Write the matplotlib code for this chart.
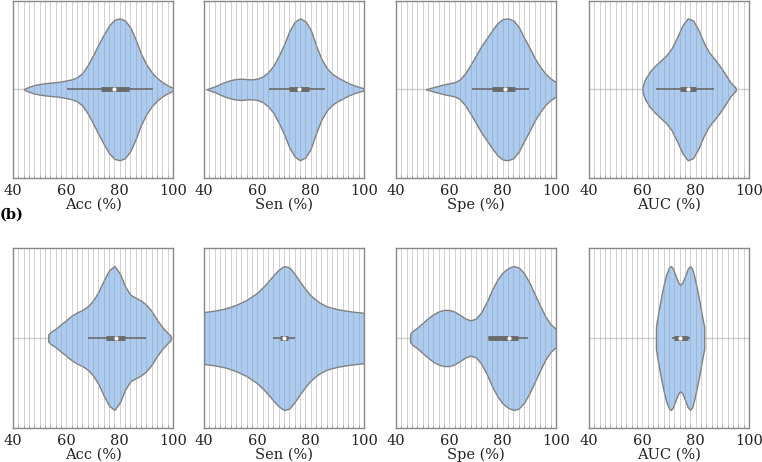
import numpy as np
import matplotlib.pyplot as plt
from matplotlib.ticker import MultipleLocator

# ---------------------------------------------------------
# DATA (violin half-width profiles, max = 1)
# ---------------------------------------------------------
metrics = ["Acc (%)", "Sen (%)", "Spe (%)", "AUC (%)"]

# row (a)
a_acc_x = [44, 45, 46, 48, 50, 52, 54, 56, 58, 60, 62, 64, 66, 68, 70, 72, 74, 76, 78, 80,
           82, 84, 86, 88, 90, 92, 94, 96, 98, 100]
a_acc_w = [0.0, 0.02, 0.035, 0.06, 0.075, 0.085, 0.094, 0.10, 0.11, 0.125, 0.14, 0.17, 0.23, 0.34,
           0.48, 0.63, 0.77, 0.90, 0.98, 1.0, 0.97, 0.87, 0.70, 0.50, 0.35, 0.24, 0.16, 0.10, 0.055, 0.02]
a_sen_x = [41, 42, 44, 46, 48, 50, 52, 54, 56, 58, 60, 62, 64, 66, 68, 70, 72, 74, 76, 78,
           80, 82, 84, 86, 88, 90, 92, 94, 96, 98, 100]
a_sen_w = [0.0, 0.015, 0.04, 0.075, 0.105, 0.13, 0.145, 0.15, 0.143, 0.14, 0.15, 0.18, 0.24, 0.33,
           0.47, 0.63, 0.82, 0.95, 1.0, 0.96, 0.84, 0.62, 0.43, 0.30, 0.22, 0.17, 0.13, 0.09, 0.06,
           0.035, 0.015]
a_spe_x = [51.2, 52, 54, 56, 58, 60, 62, 64, 66, 68, 70, 72, 74, 76, 78, 80, 82, 84, 86, 88,
           90, 92, 94, 96, 98, 100]
a_spe_w = [0.0, 0.01, 0.03, 0.05, 0.07, 0.085, 0.10, 0.14, 0.23, 0.35, 0.48, 0.61, 0.72, 0.83,
           0.93, 0.99, 1.0, 0.97, 0.88, 0.73, 0.59, 0.44, 0.32, 0.22, 0.15, 0.10]
a_auc_x = [60, 61, 63, 65, 67, 69, 71, 73, 75, 77, 79, 81, 83, 85, 87, 89, 91, 93, 95]
a_auc_w = [0.03, 0.14, 0.26, 0.34, 0.41, 0.48, 0.58, 0.73, 0.90, 1.0, 0.97, 0.84, 0.66, 0.52,
           0.43, 0.33, 0.22, 0.10, 0.02]

# row (b)
b_acc_x = [53.2, 54, 56, 58, 60, 62, 64, 66, 68, 70, 72, 74, 76, 78, 80, 82, 84, 86, 88, 90,
           92, 94, 96, 98, 99.1]
b_acc_w = [0.05, 0.08, 0.13, 0.19, 0.25, 0.31, 0.355, 0.39, 0.44, 0.52, 0.64, 0.80, 0.94, 1.0,
           0.90, 0.72, 0.60, 0.56, 0.52, 0.46, 0.37, 0.25, 0.15, 0.07, 0.03]
b_sen_x = [40, 44, 48, 52, 56, 60, 63, 66, 68, 70, 72, 74, 76, 78, 80, 83, 86, 90, 95, 100]
b_sen_w = [0.36, 0.38, 0.41, 0.46, 0.53, 0.63, 0.74, 0.87, 0.95, 1.0, 0.98, 0.89, 0.78, 0.68,
           0.59, 0.50, 0.44, 0.40, 0.37, 0.35]
b_spe_x = [45.3, 46, 48, 50, 52, 54, 56, 58, 60, 62, 64, 66, 68, 70, 72, 74, 76, 78, 80, 82,
           84, 86, 88, 90, 92, 94, 96, 98, 100]
b_spe_w = [0.055, 0.09, 0.145, 0.21, 0.275, 0.33, 0.37, 0.39, 0.39, 0.365, 0.32, 0.27, 0.245,
           0.27, 0.36, 0.50, 0.67, 0.81, 0.91, 0.97, 1.0, 0.98, 0.90, 0.77, 0.61, 0.45, 0.30,
           0.19, 0.125]
b_auc_x = [65.1, 65.5, 66, 67, 68, 69, 70, 70.7, 71.5, 72.5, 73.5, 74.2, 75, 76, 77, 77.9,
           78.7, 79.5, 80.5, 81.5, 82.3, 83.2]
b_auc_w = [0.15, 0.25, 0.36, 0.56, 0.74, 0.89, 0.98, 1.0, 0.96, 0.86, 0.77, 0.74, 0.77, 0.86,
           0.96, 1.0, 0.96, 0.85, 0.68, 0.49, 0.32, 0.15]

# inner box: whisker low, q1, median, q3, whisker high
a_box = [[60.3, 72.8, 77.8, 83.5, 92.3],
         [64.25, 72.0, 75.75, 79.4, 85.25],
         [68.6, 76.0, 81.0, 84.6, 89.8],
         [65.0, 74.0, 77.0, 80.0, 87.0]]
b_box = [[68.0, 74.7, 78.5, 81.9, 89.7],
         [66.0, 68.5, 70.0, 71.5, 74.0],
         [74.5, 74.5, 82.4, 85.7, 89.4],
         [71.0, 71.7, 74.0, 77.0, 77.9]]

rows = [
    [(a_acc_x, a_acc_w), (a_sen_x, a_sen_w), (a_spe_x, a_spe_w), (a_auc_x, a_auc_w)],
    [(b_acc_x, b_acc_w), (b_sen_x, b_sen_w), (b_spe_x, b_spe_w), (b_auc_x, b_auc_w)],
]
boxes = [a_box, b_box]

# ---------------------------------------------------------
# PLOT
# ---------------------------------------------------------
plt.rcParams['font.family'] = 'DejaVu Serif'
plt.rcParams['font.size'] = 9

fig = plt.figure(figsize=(7.62, 4.62), dpi=100)

lefts = [0.0171, 0.2677, 0.5197, 0.773]
row_bottoms = [0.6147, 0.0736]
row_heights = [0.384, 0.3896]

FILL = '#abcbf1'
EDGE = '#7f7f7f'
BOXC = '#6a6a6a'

for r in range(2):
    for c in range(4):
        ax = fig.add_axes([lefts[c], row_bottoms[r], 0.21, row_heights[r]])
        xs, ws = rows[r][c]
        xs = np.array(xs, dtype=float)
        half = np.array(ws) * 0.4

        ax.axhline(0, color='#d0d0d0', lw=1.0, zorder=0)
        ax.fill_between(xs, -half, half, facecolor=FILL, edgecolor=EDGE, lw=1.0, zorder=1)

        # grid drawn over the violin, as in the reference
        for gx in np.arange(42, 100, 2):
            ax.axvline(gx, color='#9a9a9a', lw=0.7, alpha=0.45, zorder=2)

        lo, q1, med, q3, hi = boxes[r][c]
        ax.plot([lo, hi], [0, 0], color=BOXC, lw=1.2, zorder=3, solid_capstyle='butt')
        ax.plot([q1, q3], [0, 0], color=BOXC, lw=3.5, zorder=3, solid_capstyle='butt')
        ax.plot([med], [0], marker='o', ms=2.0, color='white', mec='white', zorder=4)

        ax.set_xlim(40, 100)
        ax.set_ylim(0.5, -0.5)
        ax.xaxis.set_major_locator(MultipleLocator(20))
        ax.xaxis.set_minor_locator(MultipleLocator(2))
        ax.set_yticks([])
        ax.tick_params(axis='x', which='major', length=0, labelsize=10.5, pad=4, colors='#222222')
        ax.tick_params(axis='x', which='minor', length=2, color='#999999', direction='in')
        for s in ax.spines.values():
            s.set_color('#888888')
            s.set_linewidth(1.0)
        ax.set_xlabel(metrics[c], fontsize=10.5, labelpad=0, color='#222222')

fig.text(0.0, 0.535, '(b)', fontsize=10.5, fontweight='bold', ha='left', va='center')

fig.savefig('out.png', dpi=100)
